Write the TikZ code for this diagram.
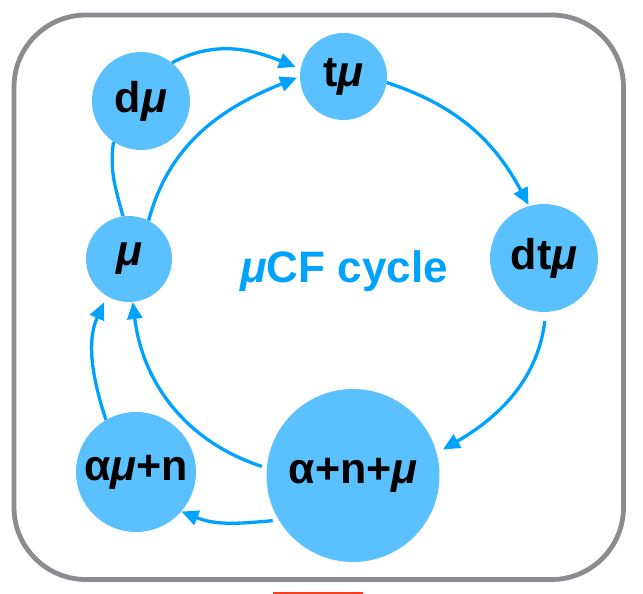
\documentclass[tikz,border=0pt]{standalone}
\usepackage{fontspec}
\setmainfont{Liberation Sans}
\usetikzlibrary{arrows.meta}
\definecolor{nodefill}{HTML}{5BC0FE}
\definecolor{linkblue}{HTML}{00A2FF}
\definecolor{framegray}{HTML}{8A8C90}
\definecolor{markred}{HTML}{FF3B1F}
\tikzset{
  state/.style={circle, fill=nodefill, inner sep=0pt, text=black,
    font=\bfseries\fontsize{43}{43}\selectfont},
  link/.style={draw=linkblue, line width=3.3pt,
    -{Triangle[length=17pt,width=15pt]}},
  plainlink/.style={draw=linkblue, line width=3.3pt},
}
\newcommand{\mus}{\textit{μ}}
\begin{document}
\begin{tikzpicture}[x=1pt, y=-1pt]
  \useasboundingbox (0,0) rectangle (643,594);
  % outer frame
  \draw[framegray, line width=4.8pt, rounded corners=72pt] (14,15) rectangle (623.5,579.5);
  \fill[markred] (273,591.5) rectangle (363,594);

  % states
  \node[state, minimum size=98pt]  (dmu)  at (141,101)   {d\mus};
  \node[state, minimum size=87pt]  (tmu)  at (343.5,76.5) {t\mus};
  \node[state, minimum size=108pt] (dtmu) at (544,258)   {dt\mus};
  \node[state, minimum size=86pt]  (mu)   at (129,259)   {\mus};
  \node[state, minimum size=173pt] (anmu) at (353,475.5) {α+n+\mus};
  \node[state, minimum size=120pt] (amun) at (136,472)   {α\mus+n};

  \node[text=linkblue, font=\bfseries\fontsize{44}{44}\selectfont] (title) at (344,271) {\mus CF cycle};

  % transitions
  \draw[link, shorten >=5pt] (dmu.51.5) to[out=28, in=158] (tmu.170);
  \draw[link, shorten >=3pt] (mu.63) to[out=75, in=202] (tmu.180);
  \draw[plainlink] (dmu.236) to[out=262, in=105] (mu.98);
  \draw[link, shorten >=1pt] (tmu.-8.5) to[out=-18, in=118] (dtmu.106);
  \draw[link, shorten <=9pt, shorten >=7pt] (dtmu.-88) to[out=-97, in=30] (anmu.15);
  \draw[link, shorten <=5pt] (anmu.175) to[out=162, in=-83] (mu.-85);
  \draw[link, shorten >=7pt] (amun.120) to[out=108, in=-114] (mu.-121);
  \draw[link, shorten <=6pt] (anmu.211) to[out=185, in=-22] (amun.-41);
\end{tikzpicture}
\end{document}
